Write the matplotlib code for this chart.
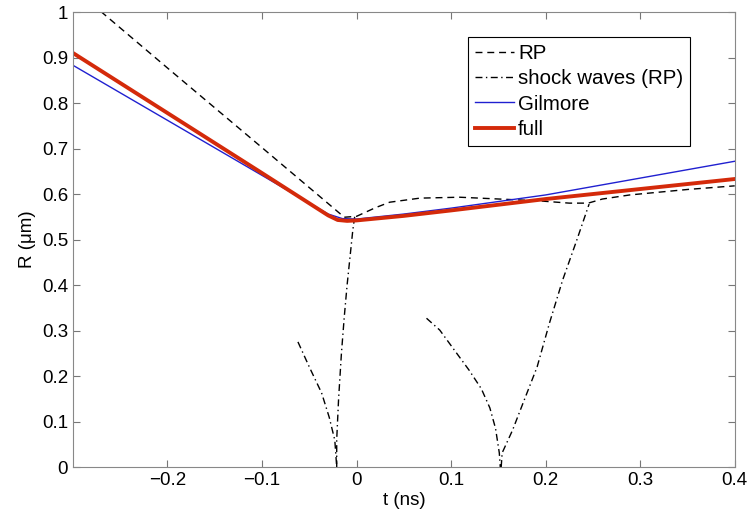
import numpy as np
import matplotlib
matplotlib.use("Agg")
import matplotlib.pyplot as plt

plt.rcParams['font.family'] = ['Liberation Sans', 'DejaVu Sans']

# RP (dashed)
rp_t = [-0.28, -0.2, -0.1, -0.03, -0.013, 0.0, 0.02, 0.035, 0.067, 0.109, 0.151, 0.193, 0.225, 0.245, 0.26, 0.289, 0.35, 0.4]
rp_R = [1.018, 0.877, 0.702, 0.579, 0.549, 0.551, 0.570, 0.582, 0.591, 0.593, 0.589, 0.585, 0.580, 0.580, 0.589, 0.598, 0.610, 0.618]

# shock waves (RP), four branches
sw1_t = [-0.062, -0.050, -0.037, -0.029, -0.023, -0.021]
sw1_R = [0.275, 0.220, 0.163, 0.110, 0.059, 0.0]
sw2_t = [-0.002, -0.004, -0.007, -0.010, -0.013, -0.016, -0.019, -0.021, -0.021]
sw2_R = [0.550, 0.520, 0.460, 0.400, 0.330, 0.250, 0.150, 0.060, 0.0]
sw3_t = [0.074, 0.088, 0.101, 0.119, 0.132, 0.141, 0.147, 0.151, 0.152]
sw3_R = [0.327, 0.301, 0.264, 0.213, 0.172, 0.130, 0.085, 0.031, 0.0]
sw4_t = [0.153, 0.154, 0.165, 0.176, 0.191, 0.204, 0.218, 0.233, 0.246]
sw4_R = [0.0, 0.031, 0.081, 0.140, 0.220, 0.316, 0.411, 0.499, 0.578]

# Gilmore (blue)
gil_t = [-0.3, -0.2, -0.1, -0.03, -0.015, 0.0, 0.05, 0.1, 0.2, 0.3, 0.4]
gil_R = [0.883, 0.762, 0.641, 0.556, 0.546, 0.545, 0.556, 0.569, 0.598, 0.635, 0.672]

# full (red)
full_t = [-0.3, -0.2, -0.1, -0.03, -0.02, -0.01, 0.0, 0.05, 0.1, 0.2, 0.3, 0.4]
full_R = [0.910, 0.778, 0.646, 0.553, 0.543, 0.541, 0.542, 0.552, 0.564, 0.589, 0.611, 0.633]

xticks = [-0.2, -0.1, 0, 0.1, 0.2, 0.3, 0.4]
xticklabels = ['\u22120.2', '\u22120.1', '0', '0.1', '0.2', '0.3', '0.4']
yticks = [0, 0.1, 0.2, 0.3, 0.4, 0.5, 0.6, 0.7, 0.8, 0.9, 1]
yticklabels = ['0', '0.1', '0.2', '0.3', '0.4', '0.5', '0.6', '0.7', '0.8', '0.9', '1']

fig = plt.figure(figsize=(7.52, 5.23), dpi=100)
ax = fig.add_axes([0.097, 0.107, 0.880, 0.870])

ax.plot(rp_t, rp_R, color='black', lw=1.0, dashes=(5, 3.5), label='RP')
sw_t = sw1_t + [np.nan] + sw2_t + [np.nan] + sw3_t + [np.nan] + sw4_t
sw_R = sw1_R + [np.nan] + sw2_R + [np.nan] + sw3_R + [np.nan] + sw4_R
ax.plot(sw_t, sw_R, color='black', lw=1.0, dashes=(5, 2.5, 1, 2.5), label='shock waves (RP)')
ax.plot(gil_t, gil_R, '-', color='#2020d0', lw=1.0, label='Gilmore')
ax.plot(full_t, full_R, '-', color='#d42a0a', lw=2.8, label='full')

ax.set_xlim(-0.3, 0.4)
ax.set_ylim(0, 1)
ax.set_xticks(xticks)
ax.set_xticklabels(xticklabels)
ax.set_yticks(yticks)
ax.set_yticklabels(yticklabels)
ax.tick_params(direction='in', top=True, right=True, labelsize=13.5, length=5, color='#777777')
for s in ax.spines.values():
    s.set_color('#888888')
ax.set_xlabel('t (ns)', fontsize=13.5, labelpad=2)
ax.set_ylabel('R (\u03bcm)', fontsize=13.5)

leg = ax.legend(loc='upper right', bbox_to_anchor=(0.933, 0.945), fontsize=14.8,
                frameon=True, fancybox=False, edgecolor='black', framealpha=1,
                handlelength=1.9, handletextpad=0.2, borderaxespad=0, labelspacing=0.3,
                borderpad=0.35)
leg.get_frame().set_linewidth(0.8)

fig.savefig('out.png', dpi=100)
